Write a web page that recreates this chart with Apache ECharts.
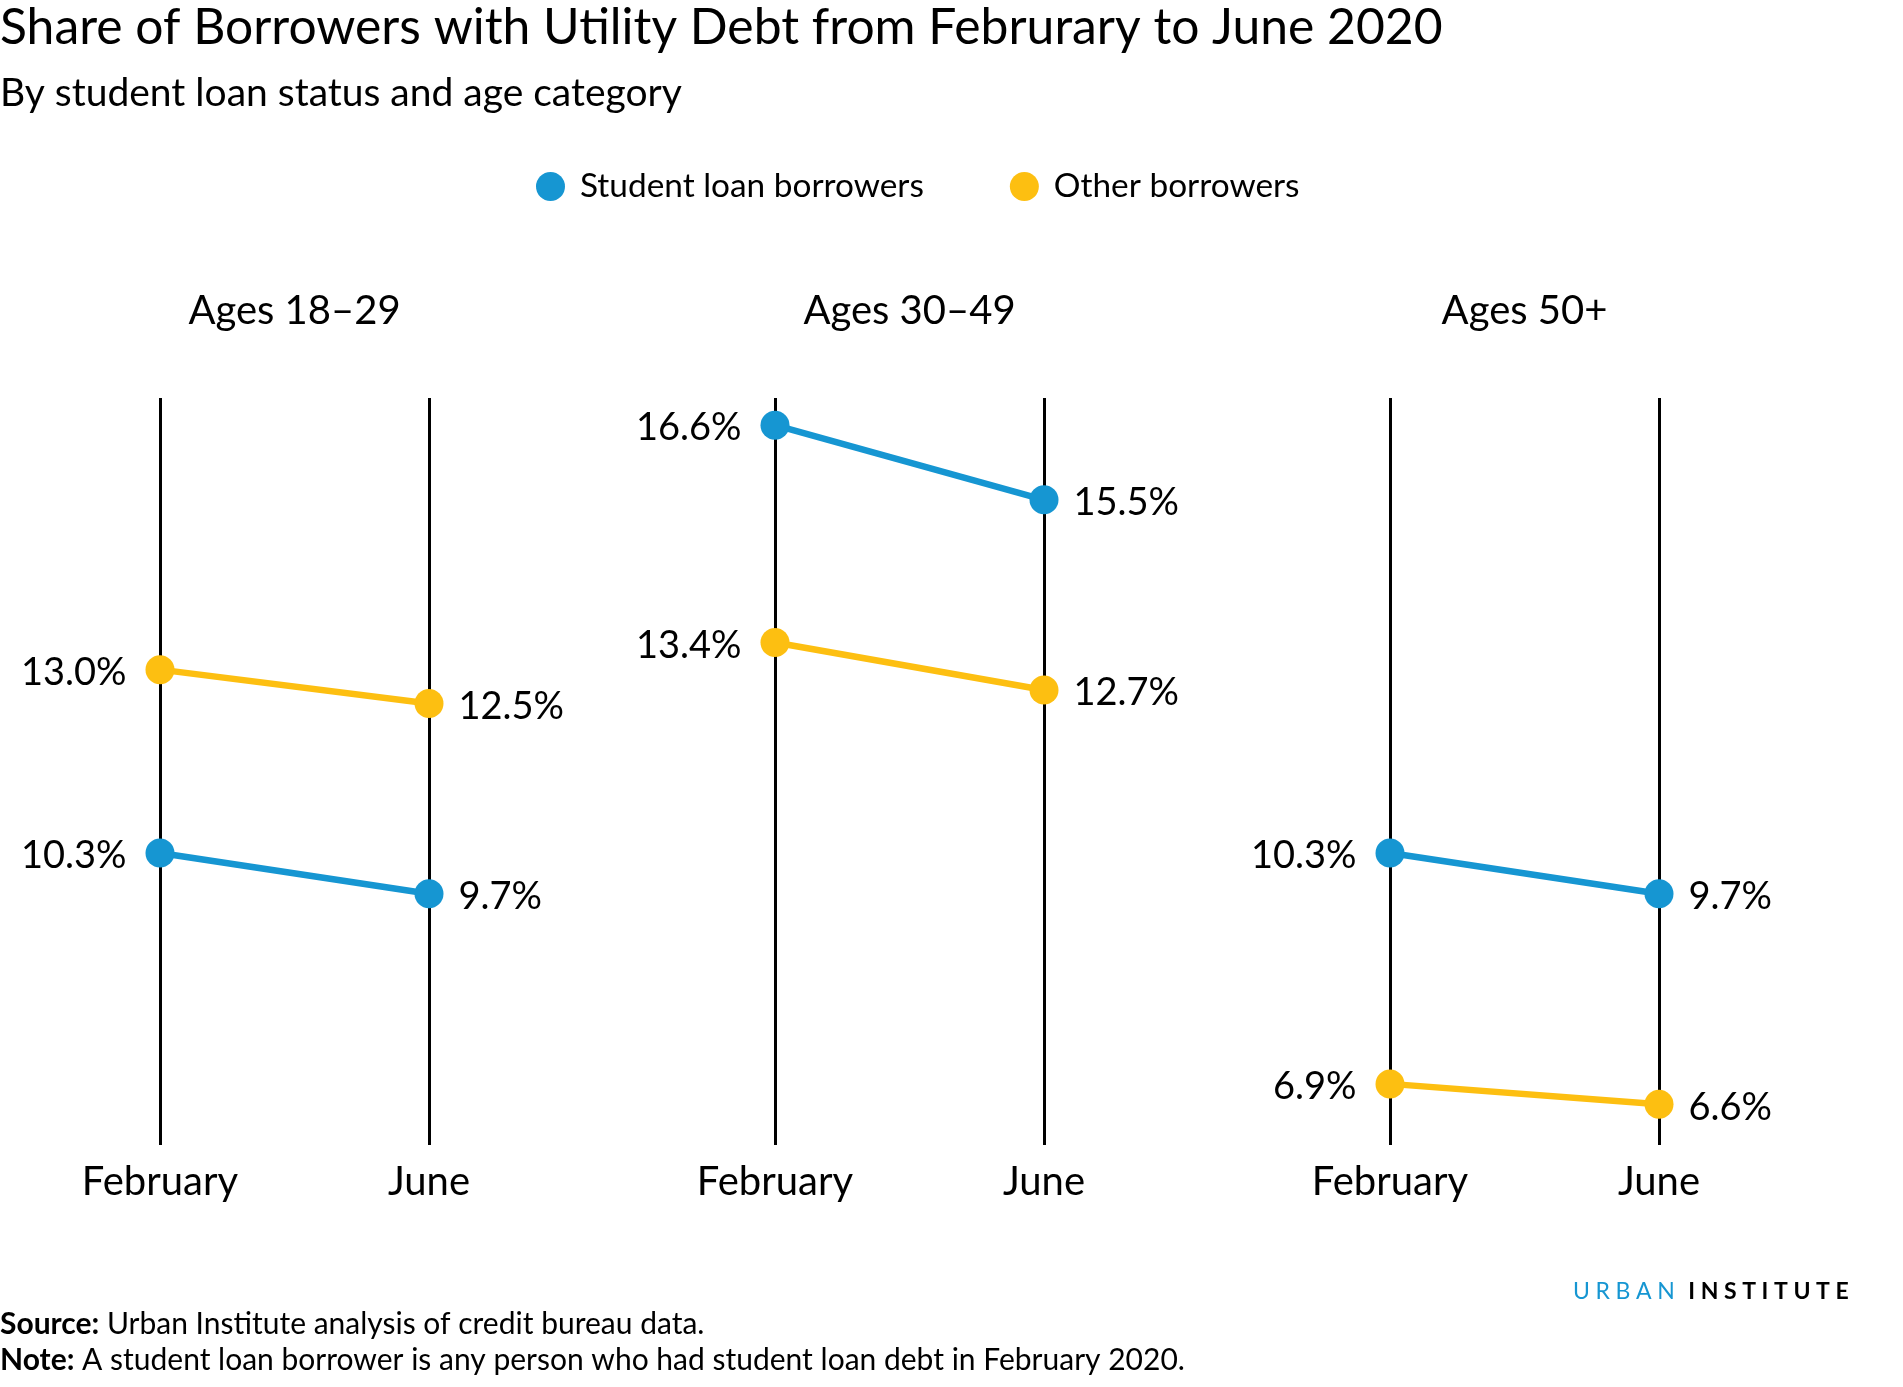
<!DOCTYPE html>
<html lang="en">
  <head>
    <meta charset="UTF-8" />
    <title>Share of Borrowers with Utility Debt from Februrary to June 2020</title>
    <style>
      * {
        margin: 0;
        padding: 0;
      }
      body {
        background: #fff;
      }
      #main {
        width: 1903px;
        height: 1387px;
      }
    </style>
  </head>
  <body>
    <div id="main"></div>
    <script src="https://cdn.jsdelivr.net/npm/echarts@6/dist/echarts.min.js"></script>
    <script>
      // categories on the x axis of every panel
      var months = ["February", "June"];
      // one panel per age group
      var ageGroups = ["Ages 18\u201329", "Ages 30\u201349", "Ages 50+"];
      // share with utility debt (%), [February, June] per age group
      var studentLoan = [
        [10.3, 9.7],
        [16.6, 15.5],
        [10.3, 9.7],
      ];
      var otherBorrowers = [
        [13.0, 12.5],
        [13.4, 12.7],
        [6.9, 6.6],
      ];
      var seriesNames = ["Student loan borrowers", "Other borrowers"];

      var BLUE = "#1696d2";
      var YELLOW = "#fdbf11";
      var FONT = "Lato";

      // panel layout (px)
      var gridLefts = [160, 775, 1390];
      var gridWidth = 269;
      var gridTop = 398;
      var gridHeight = 747;

      var myEcharts = echarts.init(document.getElementById("main"));

      var grids = [];
      var xAxes = [];
      var yAxes = [];
      var series = [];
      var titles = [
        {
          text: "Share of Borrowers with Utility Debt from Februrary to June 2020",
          subtext: "By student loan status and age category",
          left: 0,
          top: 3,
          padding: 0,
          itemGap: 21,
          textStyle: {
            fontFamily: FONT,
            fontWeight: "normal",
            fontSize: 49.8,
            lineHeight: 50,
            color: "#000",
          },
          subtextStyle: {
            fontFamily: FONT,
            fontSize: 39,
            lineHeight: 39,
            color: "#000",
          },
        },
      ];

      function pointData(values) {
        // February label sits left of the dot, June label right of it
        return values.map(function (v, i) {
          return {
            value: v,
            label: {
              position: i === 0 ? "left" : "right",
              distance: i === 0 ? 19 : 15,
            },
          };
        });
      }

      function lineSeries(name, color, values, idx) {
        return {
          name: name,
          type: "line",
          xAxisIndex: idx,
          yAxisIndex: idx,
          data: pointData(values),
          symbol: "circle",
          symbolSize: 29,
          color: color,
          itemStyle: { color: color },
          lineStyle: { color: color, width: 6.5 },
          label: {
            show: true,
            fontFamily: FONT,
            fontSize: 38,
            color: "#000",
            offset: [0, 3],
            formatter: function (p) {
              return p.value.toFixed(1) + "%";
            },
          },
          emphasis: { disabled: true },
          animation: false,
        };
      }

      for (let i = 0; i < ageGroups.length; i++) {
        grids.push({
          left: gridLefts[i],
          width: gridWidth,
          top: gridTop,
          height: gridHeight,
          containLabel: false,
        });
        xAxes.push({
          type: "category",
          gridIndex: i,
          data: months,
          boundaryGap: false,
          axisLine: { show: false },
          axisTick: { show: false },
          splitLine: {
            show: true,
            lineStyle: { color: "#000", width: 3 },
          },
          axisLabel: {
            fontFamily: FONT,
            fontSize: 40,
            lineHeight: 40,
            color: "#000",
            margin: 17,
          },
        });
        yAxes.push({
          type: "value",
          gridIndex: i,
          min: 6,
          max: 17,
          show: false,
        });
        series.push(lineSeries(seriesNames[0], BLUE, studentLoan[i], i));
        series.push(lineSeries(seriesNames[1], YELLOW, otherBorrowers[i], i));
        titles.push({
          text: ageGroups[i],
          left: gridLefts[i] + gridWidth / 2,
          textAlign: "center",
          top: 291,
          padding: 0,
          textStyle: {
            fontFamily: FONT,
            fontWeight: "normal",
            fontSize: 40,
            lineHeight: 40,
            color: "#000",
          },
        });
      }

      // letter-spaced logo text
      function spaced(word, style) {
        return word
          .split("")
          .map(function (c) {
            return "{" + style + "|" + c + "}";
          })
          .join("");
      }

      var option = {
        backgroundColor: "#fff",
        animation: false,
        title: titles,
        legend: {
          data: seriesNames,
          left: 531,
          top: 165,
          icon: "circle",
          itemWidth: 49,
          itemHeight: 29,
          itemGap: 86,
          selectedMode: false,
          textStyle: {
            fontFamily: FONT,
            fontSize: 33.4,
            color: "#000",
          },
        },
        grid: grids,
        xAxis: xAxes,
        yAxis: yAxes,
        series: series,
        graphic: [
          {
            type: "text",
            x: 0,
            y: 1324,
            style: {
              text: "{b|Source:} Urban Institute analysis of credit bureau data.",
              fontFamily: FONT,
              fontSize: 30,
              fill: "#000",
              verticalAlign: "middle",
              rich: {
                b: { fontFamily: FONT, fontSize: 30, fontWeight: "bold", fill: "#000" },
              },
            },
          },
          {
            type: "text",
            x: 0,
            y: 1360,
            style: {
              text:
                "{b|Note:} A student loan borrower is any person who had student loan debt in February 2020.",
              fontFamily: FONT,
              fontSize: 30,
              fill: "#000",
              verticalAlign: "middle",
              rich: {
                b: { fontFamily: FONT, fontSize: 30, fontWeight: "bold", fill: "#000" },
              },
            },
          },
          {
            type: "text",
            x: 1573,
            y: 1292,
            style: {
              text: spaced("URBAN", "u") + "{g| }" + spaced("INSTITUTE", "i"),
              fontFamily: FONT,
              fontSize: 23,
              verticalAlign: "middle",
              rich: {
                u: { fontFamily: FONT, fontSize: 23, fill: BLUE, padding: [0, 5.6, 0, 0] },
                i: { fontFamily: FONT, fontSize: 23, fontWeight: "bold", fill: "#000", padding: [0, 5.6, 0, 0] },
                g: { fontFamily: FONT, fontSize: 23, padding: [0, 2, 0, 0] },
              },
            },
          },
        ],
      };

      myEcharts.setOption(option);
    </script>
  </body>
</html>
